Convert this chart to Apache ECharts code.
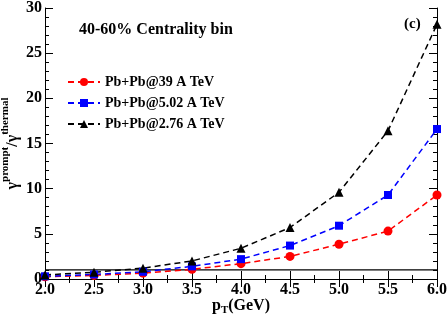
<!DOCTYPE html>
<html><head><meta charset="utf-8">
<script src="https://cdn.jsdelivr.net/npm/echarts@6/dist/echarts.min.js"></script>
<style>html,body{margin:0;padding:0;background:#fff}#c{width:447px;height:318px}</style>
</head><body><div id="c"></div>
<script>
const pT = [2.0, 2.5, 3.0, 3.5, 4.0, 4.5, 5.0, 5.5, 6.0];
const ratio39 = [0.25, 0.4, 0.65, 1.07, 1.7, 2.5, 3.85, 5.3, 9.3];
const ratio502 = [0.3, 0.5, 0.8, 1.4, 2.2, 3.7, 5.9, 9.3, 16.6];
const ratio276 = [0.45, 0.75, 1.2, 2.0, 3.4, 5.7, 9.6, 16.4, 28.2];
const refLine = [[2.0, 1], [6.0, 1]];
const seriesNames = ['Pb+Pb@39 A TeV', 'Pb+Pb@5.02 A TeV', 'Pb+Pb@2.76 A TeV'];
const xTicks = [2.0, 2.5, 3.0, 3.5, 4.0, 4.5, 5.0, 5.5, 6.0];
const yTicks = [0, 5, 10, 15, 20, 25, 30];

const F = '"Liberation Serif","DejaVu Serif",serif';
const chart = echarts.init(document.getElementById('c'), null, {renderer: 'canvas'});
function pts(ys) { return pT.map((x, i) => [x, ys[i]]); }
const aLine = {show: true, lineStyle: {color: '#000', width: 1}};
const aTick = {show: true, inside: true, length: 8, lineStyle: {color: '#000'}};
function sty(c, sym, sz) {
  return {type: 'line', symbol: sym, symbolSize: sz, itemStyle: {color: c},
    lineStyle: {color: c, type: [6, 4], width: 1.5}, z: 3};
}
chart.setOption({
  animation: false,
  grid: {left: 45, right: 10, top: 8, bottom: 39, containLabel: false, outerBoundsMode: 'none'},
  title: [
    {text: '40-60% Centrality bin', left: 74, top: 17, textStyle: {fontFamily: F, fontWeight: 'bold', fontSize: 16, color: '#000'}},
    {text: '(c)', left: 399, top: 12, textStyle: {fontFamily: F, fontWeight: 'bold', fontSize: 15, color: '#000'}}
  ],
  legend: {
    orient: 'vertical', left: 62, top: 70, itemGap: 7, itemWidth: 32, itemHeight: 10,
    data: seriesNames,
    textStyle: {fontFamily: F, fontWeight: 'bold', fontSize: 14, color: '#000'}
  },
  xAxis: [
    {type: 'value', min: 2, max: 6, interval: 0.5, position: 'bottom',
      axisLine: aLine, axisTick: aTick, splitLine: {show: false},
      minorTick: {show: true, splitNumber: 2, length: 4, lineStyle: {color: '#000'}},
      axisLabel: {fontFamily: F, fontWeight: 'bold', fontSize: 16, color: '#000', margin: 3,
        formatter: v => xTicks.includes(v) ? v.toFixed(1) : ''},
      name: '{a|p}{s|T}{a|(GeV)}', nameLocation: 'middle', nameGap: 16, nameMoveOverlap: false,
      nameTextStyle: {rich: {
        a: {fontFamily: F, fontWeight: 'bold', fontSize: 16, color: '#000'},
        s: {fontFamily: F, fontWeight: 'bold', fontSize: 11, color: '#000', padding: [10, 0, 0, 0]}
      }}
    },
    {type: 'value', min: 2, max: 6, interval: 0.5, position: 'top',
      axisLine: aLine, axisTick: aTick,
      minorTick: {show: true, splitNumber: 2, length: 4, lineStyle: {color: '#000'}},
      axisLabel: {show: false}, splitLine: {show: false}}
  ],
  yAxis: [
    {type: 'value', min: 0, max: 30, interval: 5, position: 'left',
      axisLine: aLine, axisTick: aTick,
      minorTick: {show: true, splitNumber: 5, length: 4, lineStyle: {color: '#000'}},
      splitLine: {show: false},
      axisLabel: {fontFamily: F, fontWeight: 'bold', fontSize: 16, color: '#000', margin: 3,
        formatter: v => yTicks.includes(v) ? String(v) : ''},
      name: '{g|γ}{s|prompt}{g|/γ}{s|thermal}', nameLocation: 'middle', nameGap: 24, nameRotate: 90,
      nameMoveOverlap: false,
      nameTextStyle: {rich: {
        g: {fontFamily: F, fontWeight: 'bold', fontSize: 16, color: '#000', padding: [8, 0, 0, 0]},
        s: {fontFamily: F, fontWeight: 'bold', fontSize: 11, color: '#000', padding: [0, 0, 8, 0]}
      }}
    },
    {type: 'value', min: 0, max: 30, interval: 5, position: 'right',
      axisLine: aLine, axisTick: aTick,
      minorTick: {show: true, splitNumber: 5, length: 4, lineStyle: {color: '#000'}},
      axisLabel: {show: false}, splitLine: {show: false}}
  ],
  series: [
    Object.assign(sty('#ff0000', 'circle', 9), {name: seriesNames[0], data: pts(ratio39)}),
    Object.assign(sty('#0000ff', 'rect', 8), {name: seriesNames[1], data: pts(ratio502)}),
    Object.assign(sty('#000000', 'triangle', 9), {name: seriesNames[2], data: pts(ratio276)}),
    {type: 'line', data: refLine, symbol: 'none', lineStyle: {color: '#000', width: 1.2}, z: 2, silent: true}
  ]
});
</script></body></html>
